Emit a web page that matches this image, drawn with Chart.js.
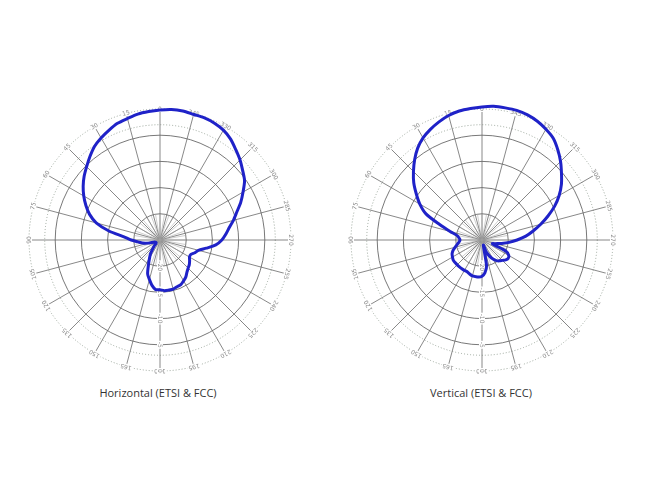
<!DOCTYPE html>
<html>
<head>
<meta charset="utf-8">
<script src="https://cdn.jsdelivr.net/npm/chart.js@4.4.0/dist/chart.umd.min.js"></script>
<style>
  html, body { margin: 0; padding: 0; background: #fff; }
  body { width: 645px; height: 500px; position: relative; overflow: hidden; font-family: 'Open Sans', sans-serif; }
  .plot { position: absolute; top: 95px; width: 290px; height: 290px; }
  .caption { position: absolute; top: 385px; width: 200px; text-align: center; font-size: 11px; color: #333; }
</style>
</head>
<body>
<div class="plot" style="left:15px"><canvas id="hChart" width="290" height="290"></canvas></div>
<div class="plot" style="left:337px"><canvas id="vChart" width="290" height="290"></canvas></div>
<div class="caption" style="left:58px">Horizontal (ETSI &amp; FCC)</div>
<div class="caption" style="left:381px">Vertical (ETSI &amp; FCC)</div>
<script>
// azimuth in degrees, counter-clockwise from top (as printed on the plot)
const angles = [0, 5, 10, 15, 20, 25, 30, 35, 40, 45, 50, 55, 60, 65, 70, 75, 80, 85,
  90, 95, 100, 105, 110, 115, 120, 125, 130, 135, 140, 145, 150, 155, 160, 165, 170, 175,
  180, 185, 190, 195, 200, 205, 210, 215, 220, 225, 230, 235, 240, 245, 250, 255, 260, 265,
  270, 275, 280, 285, 290, 295, 300, 305, 310, 315, 320, 325, 330, 335, 340, 345, 350, 355];

// relative gain, dB
const horizontalGain = [-0.2, -0.4, -0.6, -1.0, -1.3, -1.9, -2.5, -3.2, -4.2, -5.2, -6.1, -7.1,
  -8.2, -9.4, -10.7, -12.4, -15.1, -18.1, -19.5, -20.8, -21.6, -22.7, -23.9, -24.0,
  -24.1, -24.1, -24.0, -23.5, -22.9, -21.9, -21.0, -19.8, -18.1, -17.2, -16.2, -15.5,
  -15.5, -15.3, -15.3, -15.3, -15.5, -15.6, -16.0, -16.4, -17.0, -17.4, -17.7, -18.1,
  -18.5, -18.5, -17.9, -17.4, -16.0, -14.3, -13.2, -12.4, -11.6, -10.5, -9.4, -8.0,
  -6.7, -5.3, -4.4, -3.4, -2.5, -1.5, -0.8, -0.4, -0.2, -0.2, 0, 0];

const verticalGain = [0.4, 0.2, 0, -0.4, -1.0, -1.7, -2.5, -3.6, -5.0, -6.5, -8.0, -9.7,
  -11.3, -13.2, -16.4, -18.7, -20.2, -20.6, -20.8, -20.6, -20.2, -19.7, -19.1, -18.7,
  -18.5, -18.3, -18.3, -18.3, -18.3, -18.3, -18.3, -18.3, -18.1, -17.9, -17.9, -17.9,
  -18.1, -18.7, -20.0, -24.0, -22.5, -21.6, -20.8, -20.2, -19.8, -19.5, -19.1, -18.9,
  -19.1, -20.0, -22.9, -22.3, -21.2, -19.8, -18.3, -16.6, -15.1, -13.4, -11.6, -9.7,
  -8.0, -6.5, -5.2, -3.8, -2.5, -1.3, -0.6, 0, 0.4, 0.6, 0.6, 0.6];

const ringTicks = [-25, -20, -15, -10, -5, -3, 0];
const ringLabels = [-20, -15, -10, -5, 0];

// radar runs clockwise from the top, the plot's angles run counter-clockwise
const order = angles.map((a, i) => (angles.length - i) % angles.length);

const polarDecor = {
  id: 'polarDecor',
  beforeDatasetsDraw(chart) {
    const r = chart.scales.r;
    const ctx = chart.ctx;
    const labels = chart.data.labels;
    ctx.save();

    // fine spokes inside the first ring, every 10 degrees
    const inner = r.getDistanceFromCenterForValue(-20);
    ctx.strokeStyle = '#a0a0a0';
    ctx.lineWidth = 0.5;
    labels.forEach((lab, i) => {
      if (lab % 10) return;
      const p = r.getPointPosition(i, inner);
      ctx.beginPath();
      ctx.moveTo(r.xCenter, r.yCenter);
      ctx.lineTo(p.x, p.y);
      ctx.stroke();
    });

    ctx.font = '6px "DejaVu Sans"';
    ctx.textAlign = 'center';
    ctx.textBaseline = 'middle';

    // azimuth labels on the outer ring
    const outer = r.getDistanceFromCenterForValue(0);
    labels.forEach((lab, i) => {
      if (lab % 15) return;
      const p = r.getPointPosition(i, outer);
      const w = ctx.measureText(String(lab)).width;
      ctx.save();
      ctx.translate(p.x, p.y);
      ctx.rotate(r.getIndexAngle(i));
      ctx.fillStyle = '#fff';
      ctx.fillRect(-w / 2 - 1, -3, w + 2, 6);
      ctx.fillStyle = '#8a8a8a';
      ctx.fillText(String(lab), 0, 0);
      ctx.restore();
    });

    // ring values along the 180 spoke
    const down = labels.indexOf(180);
    ringLabels.forEach(v => {
      const p = r.getPointPosition(down, r.getDistanceFromCenterForValue(v));
      const w = ctx.measureText(String(v)).width;
      ctx.save();
      ctx.translate(p.x, p.y);
      ctx.rotate(Math.PI / 2);
      ctx.fillStyle = '#fff';
      ctx.fillRect(-w / 2 - 1, -3, w + 2, 6);
      ctx.fillStyle = '#8a8a8a';
      ctx.fillText(String(v), 0, 0);
      ctx.restore();
    });

    ctx.restore();
  }
};

function makePolar(id, gain) {
  const ctx = document.getElementById(id).getContext('2d');
  return new Chart(ctx, {
    type: 'radar',
    data: {
      labels: order.map(k => angles[k]),
      datasets: [{
        data: order.map(k => gain[k]),
        borderColor: '#1f22c8',
        borderWidth: 3,
        pointRadius: 0,
        fill: false,
        tension: 0.25
      }]
    },
    options: {
      responsive: false,
      animation: false,
      layout: { padding: 14 },
      plugins: { legend: { display: false }, tooltip: { enabled: false } },
      scales: {
        r: {
          min: -25,
          max: 0,
          startAngle: 0,
          afterBuildTicks: s => { s.ticks = ringTicks.map(v => ({ value: v })); },
          ticks: { display: false },
          pointLabels: { display: false },
          angleLines: {
            color: '#6a6a6a',
            lineWidth: c => (c.index % 3 === 0 ? 0.8 : 0)
          },
          grid: {
            circular: true,
            color: c => (c.tick.value >= -3 ? '#9aa59a' : '#555'),
            lineWidth: c => (c.tick.value >= -3 ? 1 : 0.8)
          },
          border: {
            dash: c => (c.tick && c.tick.value >= -3 ? [1, 2] : [])
          }
        }
      }
    },
    plugins: [polarDecor]
  });
}

makePolar('hChart', horizontalGain);
makePolar('vChart', verticalGain);
</script>
</body>
</html>
